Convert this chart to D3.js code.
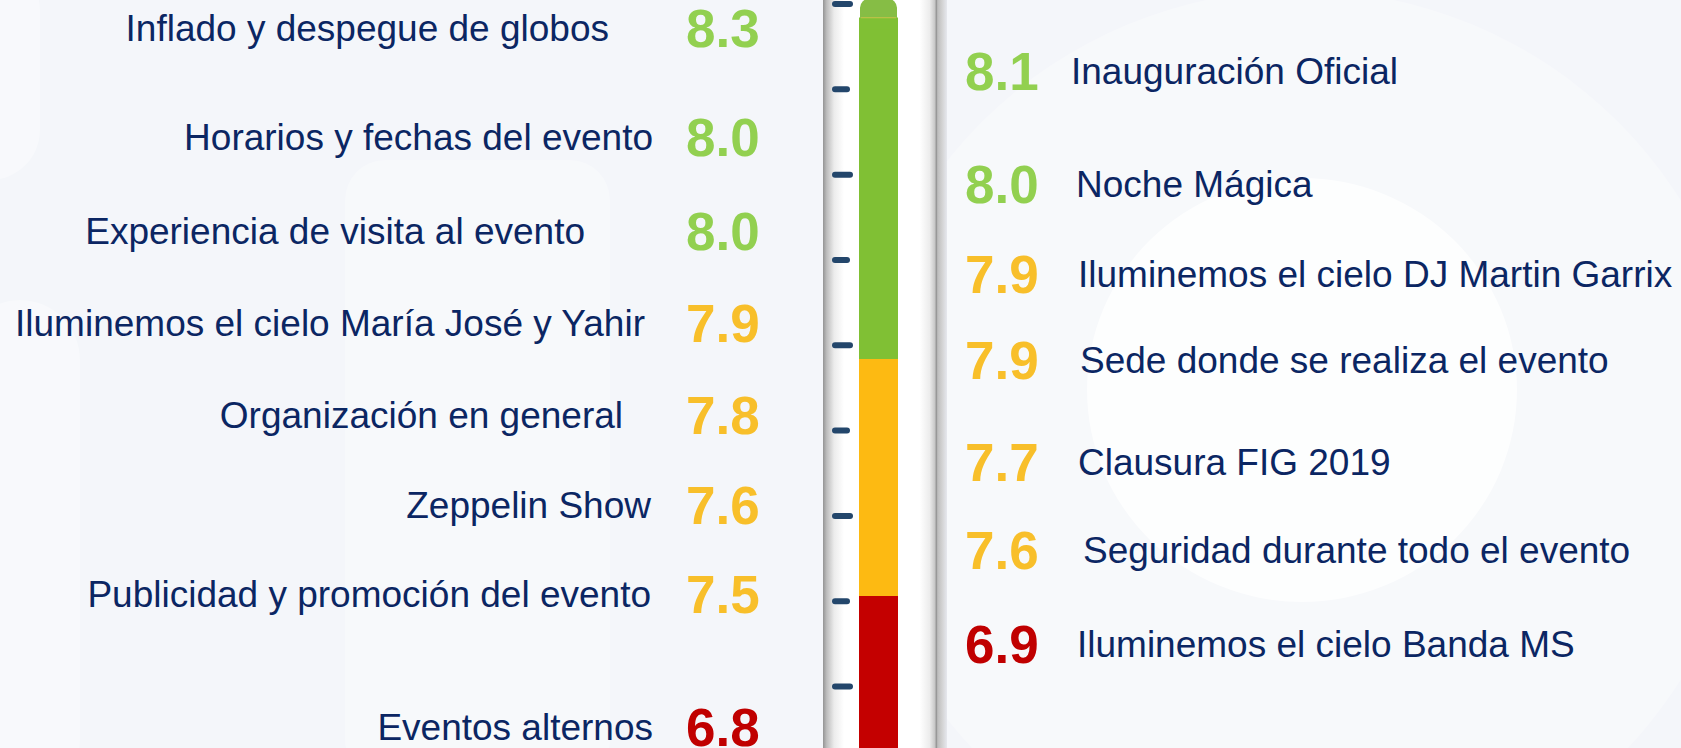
<!DOCTYPE html>
<html>
<head>
<meta charset="utf-8">
<script src="https://cdn.jsdelivr.net/npm/d3@7"></script>
<style>
  html, body { margin: 0; padding: 0; background: #f4f6fa; }
  svg { display: block; }
  text { font-family: "Liberation Sans", Arial, sans-serif; }
</style>
</head>
<body>
<div id="chart-area"></div>
<script>
// data
var leftLabels = ["Inflado y despegue de globos", "Horarios y fechas del evento",
    "Experiencia de visita al evento", "Iluminemos el cielo María José y Yahir",
    "Organización en general", "Zeppelin Show",
    "Publicidad y promoción del evento", "Eventos alternos"];
var leftScores = [8.3, 8.0, 8.0, 7.9, 7.8, 7.6, 7.5, 6.8];

var rightLabels = ["Inauguración Oficial", "Noche Mágica",
    "Iluminemos el cielo DJ Martin Garrix", "Sede donde se realiza el evento",
    "Clausura FIG 2019", "Seguridad durante todo el evento",
    "Iluminemos el cielo Banda MS"];
var rightScores = [8.1, 8.0, 7.9, 7.9, 7.7, 7.6, 6.9];

// thermometer levels
var levelBreaks = [7.0, 8.0];
var levelBands = [[6.3, 7.0], [7.0, 8.0], [8.0, 9.44]];
var bulbTop = 9.52;
var thermoTicks = [9.5, 9.14, 8.78, 8.42, 8.06, 7.7, 7.34, 6.98, 6.62];

// layout (not data)
var width = 1681, height = 748;
var leftRowY = [28, 137, 231, 323, 415, 505, 594, 727];
var leftTextEnd = [609, 653, 585, 645, 623, 651, 651, 653];
var rightRowY = [71, 184, 274, 360, 462, 550, 644];
var rightTextStart = [1071, 1076, 1078, 1080, 1078, 1083, 1077];

var svg = d3.select("#chart-area")
    .append("svg")
        .attr("width", width)
        .attr("height", height);

var defs = svg.append("defs");

// background
svg.append("rect")
    .attr("width", width)
    .attr("height", height)
    .attr("fill", "#f4f6fa");

var bg = svg.append("g").attr("class", "bg");
bg.append("circle").attr("cx", 1300).attr("cy", 440).attr("r", 450)
    .attr("fill", "#ffffff").attr("opacity", 0.3);
bg.append("ellipse").attr("cx", 1302).attr("cy", 390).attr("rx", 215).attr("ry", 212)
    .attr("fill", "#ffffff").attr("opacity", 0.75);
bg.append("rect").attr("x", 345).attr("y", 160).attr("width", 265).attr("height", 620)
    .attr("rx", 40).attr("fill", "#ffffff").attr("opacity", 0.3);
bg.append("rect").attr("x", -40).attr("y", 300).attr("width", 120).attr("height", 500)
    .attr("rx", 60).attr("fill", "#ffffff").attr("opacity", 0.35);
bg.append("rect").attr("x", -60).attr("y", -40).attr("width", 100).attr("height", 220)
    .attr("rx", 50).attr("fill", "#ffffff").attr("opacity", 0.35);

// thermometer scale
var y = d3.scaleLinear()
    .domain([7, 8])
    .range([596, 359]);

var barColor = d3.scaleThreshold()
    .domain(levelBreaks)
    .range(["#c40000", "#fdba12", "#80c034"]);

var scoreColor = d3.scaleThreshold()
    .domain(levelBreaks)
    .range(["#c00000", "#f8bf2a", "#92d050"]);

// glass tube
var grad = defs.append("linearGradient")
    .attr("id", "tube")
    .attr("x1", "0").attr("x2", "1").attr("y1", "0").attr("y2", "0");
[[0, "#949494"], [0.03, "#bdbdbd"], [0.09, "#ececec"], [0.17, "#ffffff"],
 [0.78, "#ffffff"], [0.86, "#ececec"], [0.9, "#c9c9c9"], [0.915, "#979797"],
 [0.925, "#bdbdbd"], [0.96, "#d2d2d2"], [1, "#e6e8ee"]].forEach(function(s){
    grad.append("stop").attr("offset", s[0]).attr("stop-color", s[1]);
});

svg.append("rect")
    .attr("x", 823)
    .attr("y", -22)
    .attr("width", 124)
    .attr("height", height + 60)
    .attr("rx", 20)
    .attr("fill", "url(#tube)");

// level bands
var barX = 859, barW = 39;
svg.selectAll("rect.band")
    .data(levelBands)
    .enter()
    .append("rect")
        .attr("class", "band")
        .attr("x", barX)
        .attr("width", barW)
        .attr("y", function(d){ return y(d[1]); })
        .attr("height", function(d){ return y(d[0]) - y(d[1]); })
        .attr("fill", function(d){ return barColor(d[0]); });

// bulb cap
svg.append("rect")
    .attr("x", barX + 1)
    .attr("width", barW - 2)
    .attr("y", y(bulbTop))
    .attr("height", y(levelBands[2][1]) - y(bulbTop) + 8)
    .attr("rx", 9)
    .attr("fill", "#86bd45");
svg.append("rect")
    .attr("x", barX)
    .attr("width", barW)
    .attr("y", y(levelBands[2][1]))
    .attr("height", 12)
    .attr("fill", barColor(levelBands[2][0]));
svg.append("line")
    .attr("x1", barX + 2).attr("x2", barX + barW - 2)
    .attr("y1", y(levelBands[2][1])).attr("y2", y(levelBands[2][1]))
    .attr("stroke", "#c8c24a").attr("stroke-width", 1);

// tick marks
var tickAxis = d3.axisRight(y)
    .tickValues(thermoTicks)
    .tickSize(15)
    .tickFormat("");

var tickGroup = svg.append("g")
    .attr("class", "ticks")
    .attr("transform", "translate(835,0)")
    .call(tickAxis);
tickGroup.select(".domain").remove();
tickGroup.selectAll(".tick line")
    .attr("stroke", "#23466b")
    .attr("stroke-width", 6)
    .attr("stroke-linecap", "round")
    .attr("x2", function(d, i){ return i % 2 === 0 ? 15 : 12; });

// left rows
var leftY = d3.scaleOrdinal().domain(leftLabels).range(leftRowY);
var leftEnd = d3.scaleOrdinal().domain(leftLabels).range(leftTextEnd);

var leftRows = svg.selectAll("g.left-row")
    .data(leftLabels.map(function(d, i){ return { label: d, score: leftScores[i] }; }))
    .enter()
    .append("g")
        .attr("class", "left-row");

leftRows.append("text")
    .attr("x", function(d){ return leftEnd(d.label); })
    .attr("y", function(d){ return leftY(d.label) + 13; })
    .attr("text-anchor", "end")
    .attr("font-size", "37px")
    .attr("fill", "#0b2663")
    .text(function(d){ return d.label; });

leftRows.append("text")
    .attr("x", 686)
    .attr("y", function(d){ return leftY(d.label) + 18.5; })
    .attr("font-size", "53px")
    .attr("font-weight", "bold")
    .attr("fill", function(d){ return scoreColor(d.score); })
    .text(function(d){ return d3.format(".1f")(d.score); });

// right rows
var rightY = d3.scaleOrdinal().domain(rightLabels).range(rightRowY);
var rightStart = d3.scaleOrdinal().domain(rightLabels).range(rightTextStart);

var rightRows = svg.selectAll("g.right-row")
    .data(rightLabels.map(function(d, i){ return { label: d, score: rightScores[i] }; }))
    .enter()
    .append("g")
        .attr("class", "right-row");

rightRows.append("text")
    .attr("x", 965)
    .attr("y", function(d){ return rightY(d.label) + 18.5; })
    .attr("font-size", "53px")
    .attr("font-weight", "bold")
    .attr("fill", function(d){ return scoreColor(d.score); })
    .text(function(d){ return d3.format(".1f")(d.score); });

rightRows.append("text")
    .attr("x", function(d){ return rightStart(d.label); })
    .attr("y", function(d){ return rightY(d.label) + 13; })
    .attr("font-size", "37px")
    .attr("fill", "#0b2663")
    .text(function(d){ return d.label; });
</script>
</body>
</html>
